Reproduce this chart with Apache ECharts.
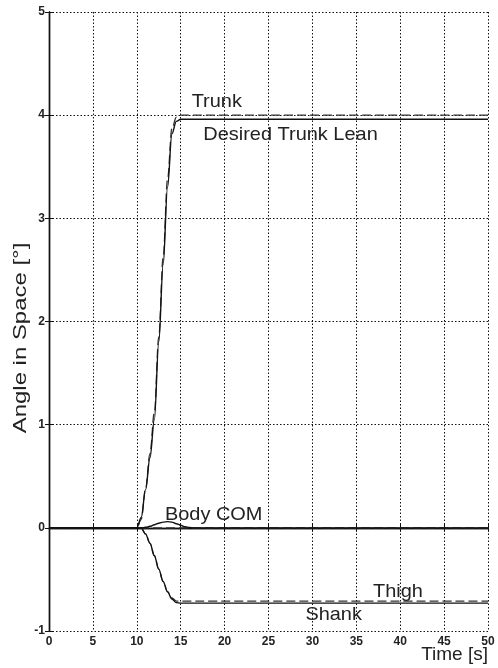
<!DOCTYPE html>
<html>
<head>
<meta charset="utf-8">
<script src="https://cdn.jsdelivr.net/npm/echarts@6/dist/echarts.min.js"></script>
<style>
  html, body { margin: 0; padding: 0; background: #fff; }
  #chart { width: 498px; height: 668px; }
</style>
</head>
<body>
<div id="chart"></div>
<script>
// ---- data ----
var time         = [0, 10, 10.5, 11, 11.5, 12, 12.5, 13, 13.5, 14, 14.5, 15, 15.5, 16, 16.5, 17, 50];
var trunk        = [0, 0, 0.1, 0.37, 0.68, 1.05, 1.8, 2.55, 3.3, 3.82, 3.94, 3.96, 3.96, 3.96, 3.96, 3.96, 3.96];
var desiredTrunk = [0, 0, 0.08, 0.38, 0.72, 1.12, 1.85, 2.62, 3.38, 3.87, 3.98, 4.0, 4.0, 4.0, 4.0, 4.0, 4.0];
var bodyCOM      = [0, 0, 0, 0.005, 0.015, 0.03, 0.045, 0.055, 0.06, 0.055, 0.04, 0.025, 0.01, 0.003, 0, 0, 0];
var desiredCOM   = [0, 0, 0, 0, 0, 0, 0, 0, 0, 0, 0, 0, 0, 0, 0, 0, 0];
var thigh        = [0, 0, 0, -0.06, -0.15, -0.27, -0.4, -0.52, -0.62, -0.68, -0.71, -0.71, -0.71, -0.71, -0.71, -0.71, -0.71];
var shank        = [0, 0, 0, -0.06, -0.15, -0.27, -0.4, -0.52, -0.62, -0.69, -0.725, -0.73, -0.73, -0.73, -0.73, -0.73, -0.73];

var xTicks = [0, 5, 10, 15, 20, 25, 30, 35, 40, 45, 50];
var yTicks = [-1, 0, 1, 2, 3, 4, 5];

var labelTexts   = ['Trunk', 'Desired Trunk Lean', 'Body COM', 'Thigh', 'Shank'];
var labelAnchorT = [16.25, 17.57, 13.2, 36.9, 29.2];
var labelAnchorV = [4.13, 3.81, 0.125, -0.62, -0.84];

var xAxisTitle = 'Time [s]';
var yAxisTitle = 'Angle in Space [°]';

// ---- build ----
function pairs(ys) { return time.map(function (t, i) { return [t, ys[i]]; }); }

var FONT = '"Liberation Sans", Arial, Helvetica, sans-serif';
var chart = echarts.init(document.getElementById('chart'), null, { renderer: 'canvas' });

function lineSeries(name, ys, dashed, z) {
  return {
    name: name, type: 'line', data: pairs(ys),
    smooth: 0.35, smoothMonotone: 'x', showSymbol: false, symbol: 'none',
    animation: false, z: z || 2,
    lineStyle: dashed
      ? { color: '#333', width: 1.3, type: [9, 4] }
      : { color: '#111', width: 1.4, type: 'solid' }
  };
}

var axisLine = { show: true, lineStyle: { color: '#111', width: 1.4 } };
var tickIn = { show: true, inside: true, length: 4, lineStyle: { color: '#111', width: 1 } };
var split = { show: true, lineStyle: { color: '#111', width: 1, type: [1.5, 2] } };

chart.setOption({
  backgroundColor: '#fff',
  animation: false,
  grid: { left: 49, right: 10, top: 12, bottom: 37, containLabel: false },
  xAxis: [
    {
      type: 'value', min: 0, max: 50, interval: 5, position: 'bottom',
      axisLine: axisLine, axisTick: tickIn, splitLine: split,
      axisLabel: { color: '#222', fontSize: 12, fontWeight: 'bold', fontFamily: FONT, margin: 5,
        formatter: function (v) { return xTicks.indexOf(v) >= 0 ? String(v) : ''; } }
    },
    {
      type: 'value', min: 0, max: 50, interval: 5, position: 'top',
      axisLine: axisLine, axisTick: tickIn, splitLine: { show: false }, axisLabel: { show: false }
    }
  ],
  yAxis: [
    {
      type: 'value', min: -1, max: 5, interval: 1, position: 'left',
      axisLine: axisLine, axisTick: tickIn, splitLine: split,
      axisLabel: { color: '#222', fontSize: 12, fontWeight: 'bold', fontFamily: FONT, margin: 4,
        formatter: function (v) { return yTicks.indexOf(v) >= 0 ? String(v) : ''; } }
    },
    {
      type: 'value', min: -1, max: 5, interval: 1, position: 'right',
      axisLine: axisLine, axisTick: tickIn, splitLine: { show: false }, axisLabel: { show: false }
    }
  ],
  series: [
    lineSeries('Desired COM', desiredCOM, true, 2),
    lineSeries('Body COM', bodyCOM, false, 3),
    lineSeries('Thigh', thigh, true, 2),
    lineSeries('Shank', shank, false, 3),
    lineSeries('Desired Trunk Lean', desiredTrunk, true, 2),
    lineSeries('Trunk', trunk, false, 3)
  ]
});

var graphics = labelTexts.map(function (txt, i) {
  var p = chart.convertToPixel({ xAxisIndex: 0, yAxisIndex: 0 }, [labelAnchorT[i], labelAnchorV[i]]);
  return {
    type: 'text', x: p[0], y: p[1], z: 10, scaleX: 1.05,
    style: { text: txt, fill: '#222', font: '19px ' + FONT, textAlign: 'left', textVerticalAlign: 'middle' }
  };
});
graphics.push({
  type: 'text', x: 488, y: 655, z: 10,
  style: { text: xAxisTitle, fill: '#222', font: '19px ' + FONT, textAlign: 'right', textVerticalAlign: 'middle' }
});
graphics.push({
  type: 'text', x: 21, y: 338, rotation: Math.PI / 2, scaleX: 1.26, z: 10,
  style: { text: yAxisTitle, fill: '#222', font: '19px ' + FONT, textAlign: 'center', textVerticalAlign: 'middle' }
});
chart.setOption({ graphic: graphics });
</script>
</body>
</html>
